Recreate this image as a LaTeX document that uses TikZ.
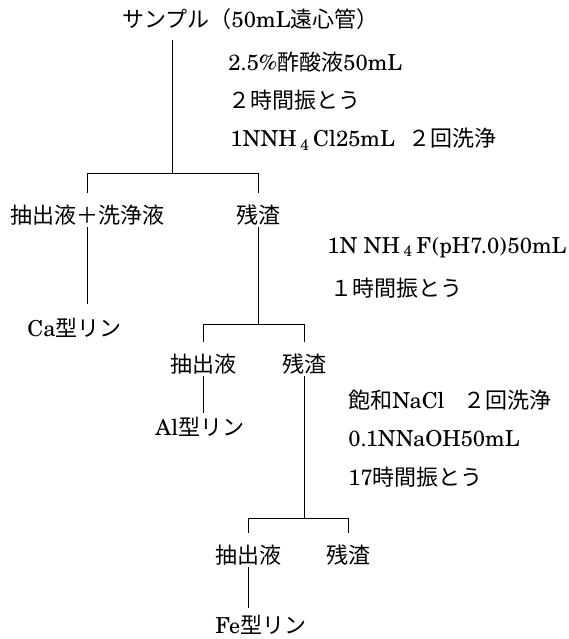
\documentclass[tikz,border=0pt]{standalone}
\usepackage{fontspec}
\setmainfont{texgyreschola-regular.otf}
\newfontfamily\cjk{Noto Sans CJK JP}[Scale=1.0]
\newcommand{\J}[1]{{\cjk #1}}
\begin{document}
\begin{tikzpicture}[x=1pt,y=-1pt,line width=0.8pt,
  lbl/.style={inner sep=0pt,font=\fontsize{22}{26}\selectfont,text height=20pt,text depth=4pt},
  note/.style={lbl,anchor=west},
  bar/.style={shorten <=10pt,shorten >=10pt}]
\useasboundingbox (0,0) rectangle (568,639);
% nodes
\node[note] (title) at (122,20) {\J{サンプル（}50mL\J{遠心管）}};
\node[note] (a1) at (228,63) {2.5\%\J{酢酸液}50mL};
\node[note] (a2) at (228,101) {\J{２時間振とう}};
\node[note] (a3) at (230,139) {1NNH\,\textsubscript{4}\,Cl25mL\hspace{14pt}\J{２回洗浄}};
\coordinate (j1) at (172,173);
\node[lbl] (n1) at (87,215) {\J{抽出液＋洗浄液}};
\node[lbl] (r1) at (258,215) {\J{残渣}};
\node[note] (ca) at (27,328) {Ca\J{型リン}};
\node[note] (b1) at (327,245) {1N NH\,\textsubscript{4}\,F\kern1pt(pH7.0)\kern1pt50mL};
\node[note] (b2) at (330,288) {\J{１時間振とう}};
\coordinate (j2) at (257,324);
\node[lbl] (n2) at (203,364) {\J{抽出液}};
\node[lbl] (r2) at (304,364) {\J{残渣}};
\node[note] (al) at (155,427) {Al\J{型リン}};
\node[note] (c1) at (348,400) {\J{飽和}NaCl\hspace{19pt}\J{２回洗浄}};
\node[note] (c2) at (348,438) {0.1NNaOH50mL};
\node[note] (c3) at (348,477) {17\J{時間振とう}};
\coordinate (j3) at (304,518);
\node[lbl] (n3) at (248,555) {\J{抽出液}};
\node[lbl] (r3) at (348,555) {\J{残渣}};
\node[note,text depth=1pt] (fe) at (215,624) {Fe\J{型リン}};
% connectors
\draw ([yshift=-8pt]title.south -| j1) -- (j1);
\draw[bar] (n1.north) -- (n1.north |- j1) -- (r1.north |- j1) -- (r1.north);
\draw[shorten >=12pt] (n1.south) -- (n1.south |- ca.north);
\draw (r1.south) -- (r1.south |- j2);
\draw[bar] (n2.north) -- (n2.north |- j2) -- (r2.north |- j2) -- (r2.north);
\draw[shorten >=2pt] (n2.south) -- (n2.south |- al.north);
\draw (r2.south) -- (r2.south |- j3);
\draw[bar] (n3.north) -- (n3.north |- j3) -- (r3.north |- j3) -- (r3.north);
\draw[shorten >=5pt] (n3.south) -- (n3.south |- fe.north);
\end{tikzpicture}
\end{document}
